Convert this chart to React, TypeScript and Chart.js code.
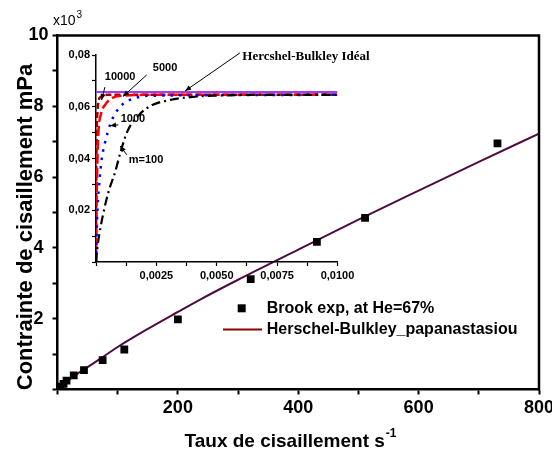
import React, { useEffect, useRef } from "react";
import { Chart, registerables } from "chart.js";

Chart.register(...registerables);

const SANS = "'Liberation Sans', Arial, sans-serif";
const SERIF = "'Liberation Serif', 'Times New Roman', serif";

// ---------- main chart data (stress in x10^3 mPa) ----------
const BROOK_X = [2, 5, 10, 15, 27, 44, 75, 111, 200, 321, 431, 511, 731];
const BROOK_Y = [0.03, 0.08, 0.16, 0.25, 0.4, 0.55, 0.83, 1.13, 1.98, 3.12, 4.17, 4.85, 6.95];

const HB_X = [0, 2, 5, 10, 20, 35, 50, 79, 100, 150, 200, 237, 300, 400, 500, 600, 700, 800];
const HB_Y = [0, 0.04, 0.09, 0.16, 0.29, 0.47, 0.63, 0.96, 1.2, 1.71, 2.19, 2.54, 3.1, 3.95, 4.8, 5.62, 6.43, 7.23];

const MAIN_X_LABELS = [200, 400, 600, 800];
const MAIN_Y_LABELS = [2, 4, 6, 8, 10];

// ---------- inset data ----------
const IDEAL_X = [0, 0.01];
const IDEAL_Y = [0.0657, 0.0657];

const M10000_X = [0, 0.00001, 0.00003, 0.00006, 0.0001, 0.0002, 0.0005, 0.01];
const M10000_Y = [0, 0.03, 0.05, 0.058, 0.062, 0.0638, 0.0646, 0.0646];

const M5000_X = [0, 0.00002, 0.00005, 0.0001, 0.0002, 0.0004, 0.0007, 0.0012, 0.002, 0.01];
const M5000_Y = [0, 0.02, 0.036, 0.05, 0.057, 0.061, 0.0635, 0.0643, 0.0646, 0.0646];

const M1000_X = [0, 0.00003, 0.00006, 0.00015, 0.00024, 0.00037, 0.0006, 0.001, 0.0016, 0.0025, 0.01];
const M1000_Y = [0, 0.012, 0.02, 0.032, 0.04, 0.046, 0.0535, 0.06, 0.0633, 0.0643, 0.0646];

const M100_X = [0, 0.00005, 0.0002, 0.0005, 0.0008, 0.001, 0.0013, 0.0018, 0.0023, 0.003, 0.004, 0.005, 0.0065, 0.01];
const M100_Y = [0, 0.005, 0.014, 0.0265, 0.035, 0.042, 0.0505, 0.057, 0.0605, 0.0625, 0.0638, 0.0643, 0.0646, 0.0646];

const INSET_X_LABELS = [0.0025, 0.005, 0.0075, 0.01];
const INSET_Y_LABELS = [0.02, 0.04, 0.06, 0.08];

// annotation texts with arrows (inset data coordinates)
const INSET_NOTES = [
  { text: "10000", tx: 0.001, ty: 0.0715, x0: 0.00037, y0: 0.0676, x1: 0.00023, y1: 0.0626, font: "bold 11px " + SANS, align: "center" },
  { text: "5000", tx: 0.00286, ty: 0.075, x0: 0.0021, y0: 0.0723, x1: 0.00112, y1: 0.064, font: "bold 11px " + SANS, align: "center" },
  { text: "1000", tx: 0.00153, ty: 0.0553, x0: 0.00093, y0: 0.053, x1: 0.00058, y1: 0.0527, font: "bold 11px " + SANS, align: "center" },
  { text: "m=100", tx: 0.00207, ty: 0.0394, x0: 0.00128, y0: 0.0414, x1: 0.001, y1: 0.0448, font: "bold 11px " + SANS, align: "center" },
  { text: "Hercshel-Bulkley Idéal", tx: 0.00606, ty: 0.0792, x0: 0.00596, y0: 0.0808, x1: 0.00369, y1: 0.0661, font: "bold 13px " + SERIF, align: "left" },
];

const pts = (xs: number[], ys: number[]) => xs.map((x, i) => ({ x, y: ys[i] }));
const near = (arr: number[], v: number) => arr.find((t) => Math.abs(t - v) < 1e-9);

function arrow(ctx: CanvasRenderingContext2D, x0: number, y0: number, x1: number, y1: number) {
  ctx.save();
  ctx.strokeStyle = "#000";
  ctx.fillStyle = "#000";
  ctx.lineWidth = 1;
  ctx.beginPath();
  ctx.moveTo(x0, y0);
  ctx.lineTo(x1, y1);
  ctx.stroke();
  const a = Math.atan2(y1 - y0, x1 - x0);
  const L = 6, W = 2.5;
  ctx.beginPath();
  ctx.moveTo(x1, y1);
  ctx.lineTo(x1 - L * Math.cos(a) + W * Math.sin(a), y1 - L * Math.sin(a) - W * Math.cos(a));
  ctx.lineTo(x1 - L * Math.cos(a) - W * Math.sin(a), y1 - L * Math.sin(a) + W * Math.cos(a));
  ctx.closePath();
  ctx.fill();
  ctx.restore();
}

const mainDecor = {
  id: "mainDecor",
  afterDraw(chart: any) {
    const { ctx, chartArea } = chart;
    const { left, right, top, bottom } = chartArea;
    ctx.save();
    // frame top & right
    ctx.strokeStyle = "#000";
    ctx.lineWidth = 2.5;
    ctx.beginPath();
    ctx.moveTo(left - 1.25, top);
    ctx.lineTo(right, top);
    ctx.lineTo(right, bottom + 1.25);
    ctx.stroke();

    ctx.fillStyle = "#000";
    // x10^3
    ctx.font = "14px " + SANS;
    ctx.textAlign = "left";
    ctx.textBaseline = "alphabetic";
    ctx.fillText("x10", 53, 25);
    const w = ctx.measureText("x10").width;
    ctx.font = "10px " + SANS;
    ctx.fillText("3", 53 + w + 1, 18);

    // y title
    ctx.save();
    ctx.translate(32, 227);
    ctx.rotate(-Math.PI / 2);
    ctx.font = "bold 22px " + SANS;
    ctx.textAlign = "center";
    ctx.textBaseline = "alphabetic";
    ctx.fillText("Contrainte de cisaillement mPa", 0, 0);
    ctx.restore();

    // x title with superscript
    ctx.font = "bold 19px " + SANS;
    const main = "Taux de cisaillement s";
    const mw = ctx.measureText(main).width;
    ctx.font = "bold 12px " + SANS;
    const sw = ctx.measureText("-1").width;
    const cx = 290;
    const sx = cx - (mw + sw) / 2;
    ctx.font = "bold 19px " + SANS;
    ctx.textAlign = "left";
    ctx.fillText(main, sx, 447);
    ctx.font = "bold 12px " + SANS;
    ctx.fillText("-1", sx + mw + 1, 437);

    // legend
    ctx.fillRect(241.7 - 4, 308.3 - 4, 8, 8);
    ctx.font = "bold 16px " + SANS;
    ctx.textBaseline = "middle";
    ctx.fillText("Brook exp, at He=67%", 266.7, 308.5);
    ctx.strokeStyle = "#8b0000";
    ctx.lineWidth = 2;
    ctx.beginPath();
    ctx.moveTo(223, 329.5);
    ctx.lineTo(262, 329.5);
    ctx.stroke();
    ctx.fillText("Herschel-Bulkley_papanastasiou", 266.7, 329.5);
    ctx.restore();
  },
};

const insetDecor = {
  id: "insetDecor",
  afterDraw(chart: any) {
    const { ctx } = chart;
    const xs = chart.scales.x;
    const ys = chart.scales.y;
    ctx.save();
    ctx.fillStyle = "#000";
    for (const n of INSET_NOTES) {
      arrow(ctx, xs.getPixelForValue(n.x0), ys.getPixelForValue(n.y0), xs.getPixelForValue(n.x1), ys.getPixelForValue(n.y1));
      ctx.font = n.font;
      ctx.textAlign = n.align as CanvasTextAlign;
      ctx.textBaseline = "middle";
      ctx.fillText(n.text, xs.getPixelForValue(n.tx), ys.getPixelForValue(n.ty));
    }
    ctx.restore();
  },
};

export default function App() {
  const mainRef = useRef<HTMLCanvasElement>(null);
  const insetRef = useRef<HTMLCanvasElement>(null);

  useEffect(() => {
    const tickFont = { family: SANS, size: 18, weight: "bold" as const };
    const main = new Chart(mainRef.current!, {
      type: "scatter",
      data: {
        datasets: [
          {
            label: "Brook exp, at He=67%",
            data: pts(BROOK_X, BROOK_Y),
            pointStyle: "rect",
            pointRadius: 5.5,
            backgroundColor: "#000",
            borderColor: "#000",
            borderWidth: 0,
            order: 0,
          },
          {
            label: "Herschel-Bulkley_papanastasiou",
            data: pts(HB_X, HB_Y),
            showLine: true,
            pointRadius: 0,
            borderColor: "#4e0d40",
            borderWidth: 2,
            cubicInterpolationMode: "monotone",
            order: 1,
          },
        ],
      },
      options: {
        responsive: false,
        devicePixelRatio: 1,
        animation: false,
        layout: { padding: { left: 0, top: 35.5, right: 13, bottom: 0 } },
        plugins: { legend: { display: false }, tooltip: { enabled: false } },
        scales: {
          x: {
            type: "linear",
            min: 0,
            max: 800,
            ticks: {
              stepSize: 100,
              autoSkip: false,
              maxRotation: 0,
              color: "#000",
              font: tickFont,
              padding: 3,
              callback: (v: any) => (near(MAIN_X_LABELS, v) !== undefined ? String(v) : ""),
            },
            grid: { drawOnChartArea: false, drawTicks: true, tickLength: 5, tickWidth: 2, tickColor: "#000" },
            border: { display: true, color: "#000", width: 2.5 },
            afterFit: (s: any) => {
              s.height = 62.5;
              s.paddingLeft = 0;
              s.paddingRight = 0;
            },
          },
          y: {
            type: "linear",
            min: 0,
            max: 10,
            ticks: {
              stepSize: 1,
              autoSkip: false,
              color: "#000",
              font: tickFont,
              padding: 4,
              crossAlign: "center",
              callback: (v: any) => (near(MAIN_Y_LABELS, v) !== undefined ? String(v) : ""),
            },
            grid: { drawOnChartArea: false, drawTicks: true, tickLength: 5, tickWidth: 2, tickColor: "#000" },
            border: { display: true, color: "#000", width: 2.5 },
            afterFit: (s: any) => {
              s.width = 57.5;
              s.paddingTop = 0;
              s.paddingBottom = 0;
            },
          },
        },
      },
      plugins: [mainDecor],
    } as any);

    const insetFont = { family: SANS, size: 11, weight: "bold" as const };
    const inset = new Chart(insetRef.current!, {
      type: "scatter",
      data: {
        datasets: [
          { label: "Ideal", data: pts(IDEAL_X, IDEAL_Y), showLine: true, pointRadius: 0, borderColor: "#9b3cff", borderWidth: 2 },
          { label: "m=100", data: pts(M100_X, M100_Y), showLine: true, pointRadius: 0, borderColor: "#000", borderWidth: 2.2, borderDash: [9, 4, 2, 4], cubicInterpolationMode: "monotone" },
          { label: "m=1000", data: pts(M1000_X, M1000_Y), showLine: true, pointRadius: 0, borderColor: "#0000ff", borderWidth: 2.5, borderDash: [2.5, 6], cubicInterpolationMode: "monotone" },
          { label: "m=5000", data: pts(M5000_X, M5000_Y), showLine: true, pointRadius: 0, borderColor: "#ff0000", borderWidth: 2.5, borderDash: [10, 4], cubicInterpolationMode: "monotone" },
          { label: "m=10000", data: pts(M10000_X, M10000_Y), showLine: true, pointRadius: 0, borderColor: "#a00000", borderWidth: 2.5, borderDash: [6, 3], cubicInterpolationMode: "monotone" },
        ],
      },
      options: {
        responsive: false,
        devicePixelRatio: 1,
        animation: false,
        layout: { padding: { left: 0, top: 55, right: 214.5, bottom: 160 } },
        plugins: { legend: { display: false }, tooltip: { enabled: false } },
        scales: {
          x: {
            type: "linear",
            min: 0,
            max: 0.01,
            ticks: {
              stepSize: 0.00125,
              autoSkip: false,
              maxRotation: 0,
              color: "#000",
              font: insetFont,
              padding: 3,
              callback: (v: any) => {
                const t = near(INSET_X_LABELS, v);
                return t !== undefined ? t.toFixed(4).replace(".", ",") : "";
              },
            },
            grid: { drawOnChartArea: false, drawTicks: true, tickLength: 4, tickWidth: 1.2, tickColor: "#000" },
            border: { display: true, color: "#000", width: 1.5 },
            afterFit: (s: any) => {
              s.height = 30;
              s.paddingLeft = 0;
              s.paddingRight = 0;
            },
          },
          y: {
            type: "linear",
            min: 0,
            max: 0.08,
            ticks: {
              stepSize: 0.01,
              autoSkip: false,
              color: "#000",
              font: insetFont,
              padding: 2,
              callback: (v: any) => {
                const t = near(INSET_Y_LABELS, v);
                return t !== undefined ? t.toFixed(2).replace(".", ",") : "";
              },
            },
            grid: { drawOnChartArea: false, drawTicks: true, tickLength: 4, tickWidth: 1.2, tickColor: "#000" },
            border: { display: true, color: "#000", width: 1.5 },
            afterFit: (s: any) => {
              s.width = 96;
              s.paddingTop = 0;
              s.paddingBottom = 0;
            },
          },
        },
      },
      plugins: [insetDecor],
    } as any);

    return () => {
      inset.destroy();
      main.destroy();
    };
  }, []);

  return (
    <div style={{ position: "fixed", left: 0, top: 0, width: 552, height: 452, background: "#fff" }}>
      <canvas ref={mainRef} width={552} height={452} style={{ position: "absolute", left: 0, top: 0, width: 552, height: 452 }} />
      <canvas ref={insetRef} width={552} height={452} style={{ position: "absolute", left: 0, top: 0, width: 552, height: 452 }} />
    </div>
  );
}
